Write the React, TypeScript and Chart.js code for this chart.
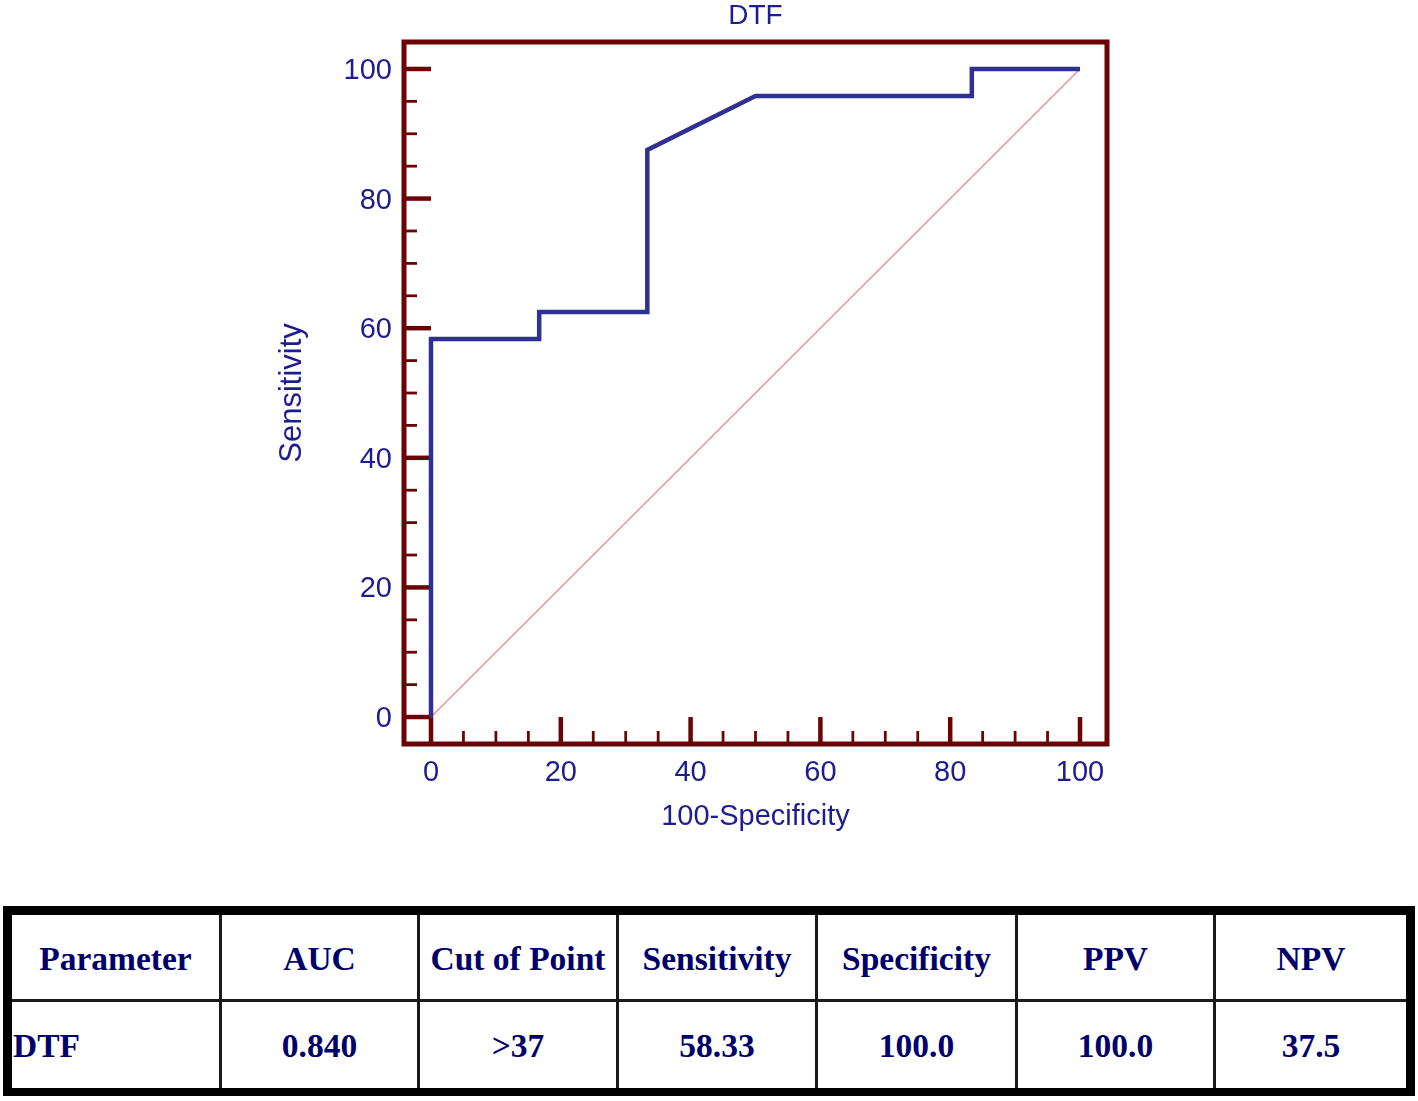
import React, { useEffect, useRef } from "react";
import { Chart, registerables } from "chart.js";

Chart.register(...registerables);

// ROC curve data (100-Specificity, Sensitivity)
const fprValues = [0, 0, 16.67, 16.67, 33.33, 33.33, 50, 83.33, 83.33, 100];
const sensValues = [0, 58.33, 58.33, 62.5, 62.5, 87.5, 95.83, 95.83, 100, 100];
const diagX = [0, 100];
const diagY = [0, 100];
const tickValues = [0, 20, 40, 60, 80, 100];
const minorPerMajor = 3;

const chartTitle = "DTF";
const xTitle = "100-Specificity";
const yTitle = "Sensitivity";

const tableHeaders = ["Parameter", "AUC", "Cut of Point", "Sensitivity", "Specificity", "PPV", "NPV"];
const tableRow = ["DTF", "0.840", ">37", "58.33", "100.0", "100.0", "37.5"];

const TEXT = "#1d1d8f";
const FRAME = "#6b0505";
const FONT = "'Liberation Sans', Arial, sans-serif";

const framePlugin = {
  id: "rocFrame",
  beforeDatasetsDraw(chart: any) {
    const { ctx, chartArea, scales } = chart;
    const xs = scales.x;
    const ys = scales.y;
    const x0 = xs.getPixelForValue(0);
    const y0 = ys.getPixelForValue(0);
    ctx.save();
    ctx.strokeStyle = FRAME;
    ctx.lineWidth = 5;
    ctx.strokeRect(chartArea.left, chartArea.top, chartArea.right - chartArea.left, chartArea.bottom - chartArea.top);
    ctx.lineWidth = 4.5;
    ctx.lineCap = "butt";
    tickValues.forEach((v) => {
      const py = ys.getPixelForValue(v);
      ctx.beginPath();
      ctx.moveTo(chartArea.left, py);
      ctx.lineTo(x0, py);
      ctx.stroke();
      const px = xs.getPixelForValue(v);
      ctx.beginPath();
      ctx.moveTo(px, chartArea.bottom);
      ctx.lineTo(px, y0);
      ctx.stroke();
    });
    ctx.lineWidth = 2.8;
    for (let i = 0; i < tickValues.length - 1; i++) {
      const a = tickValues[i];
      const b = tickValues[i + 1];
      for (let k = 1; k <= minorPerMajor; k++) {
        const v = a + ((b - a) * k) / (minorPerMajor + 1);
        const py = ys.getPixelForValue(v);
        ctx.beginPath();
        ctx.moveTo(chartArea.left, py);
        ctx.lineTo(chartArea.left + 13, py);
        ctx.stroke();
        const px = xs.getPixelForValue(v);
        ctx.beginPath();
        ctx.moveTo(px, chartArea.bottom);
        ctx.lineTo(px, chartArea.bottom - 13);
        ctx.stroke();
      }
    }
    // chart title centred over the plot frame
    ctx.fillStyle = TEXT;
    ctx.font = `28px ${FONT}`;
    ctx.textAlign = "center";
    ctx.textBaseline = "alphabetic";
    ctx.fillText(chartTitle, (chartArea.left + chartArea.right) / 2, 24);
    ctx.restore();
  },
};

function RocChart() {
  const ref = useRef<HTMLCanvasElement | null>(null);
  useEffect(() => {
    if (!ref.current) return;
    const font = { family: FONT, size: 29 };
    const chart = new Chart(ref.current, {
      type: "line",
      data: {
        datasets: [
          {
            data: fprValues.map((x, i) => ({ x, y: sensValues[i] })),
            borderColor: "#2e3192",
            borderWidth: 4.5,
            pointRadius: 0,
            tension: 0,
            fill: false,
            borderJoinStyle: "miter",
            order: 0,
          },
          {
            data: diagX.map((x, i) => ({ x, y: diagY[i] })),
            borderColor: "#e58a8a",
            borderWidth: 1.2,
            pointRadius: 0,
            tension: 0,
            fill: false,
            order: 1,
          },
        ],
      },
      options: {
        animation: false,
        responsive: false,
        layout: { padding: { left: 262, right: 311, top: 42, bottom: 0 } },
        plugins: {
          legend: { display: false },
          tooltip: { enabled: false },
          title: { display: false },
        },
        scales: {
          x: {
            type: "linear",
            min: -4.16,
            max: 104.16,
            grid: { display: false, drawTicks: false },
            border: { display: false },
            afterBuildTicks: (s: any) => {
              s.ticks = tickValues.map((v) => ({ value: v }));
            },
            afterFit: (s: any) => {
              s.height = 116;
            },
            ticks: { color: TEXT, font, padding: 12, maxRotation: 0, autoSkip: false },
            title: {
              display: true,
              text: xTitle,
              color: TEXT,
              font: { family: FONT, size: 29, lineHeight: 1 },
              padding: { top: 0, bottom: 29 },
            },
          },
          y: {
            type: "linear",
            min: -4.16,
            max: 104.16,
            grid: { display: false, drawTicks: false },
            border: { display: false },
            afterBuildTicks: (s: any) => {
              s.ticks = tickValues.map((v) => ({ value: v }));
            },
            afterFit: (s: any) => {
              s.width = 142;
            },
            ticks: { color: TEXT, font, padding: 12, autoSkip: false, labelOffset: 2 },
            title: {
              display: true,
              text: yTitle,
              color: TEXT,
              font: { family: FONT, size: 31, lineHeight: 1 },
              padding: { top: 15, bottom: 0 },
            },
          },
        },
      },
      plugins: [framePlugin],
    } as any);
    return () => chart.destroy();
  }, []);
  return <canvas ref={ref} width={1418} height={860} style={{ display: "block" }} />;
}

const colWidths = [210, 198, 199, 199, 200, 198, 190];

function ResultTable() {
  const cellBase: React.CSSProperties = {
    boxSizing: "border-box",
    display: "flex",
    alignItems: "center",
    justifyContent: "center",
    fontFamily: "'Liberation Serif', 'Times New Roman', serif",
    fontWeight: "bold",
    fontSize: 33.5,
    color: "#00006b",
    whiteSpace: "nowrap",
    overflow: "hidden",
  };
  const lineColor = "#1a1a1a";
  return (
    <div
      style={{
        position: "absolute",
        left: 3,
        top: 906,
        width: 1412,
        height: 190,
        boxSizing: "border-box",
        borderStyle: "solid",
        borderColor: "#000",
        borderWidth: "9px 9px 8px 9px",
        display: "grid",
        gridTemplateColumns: colWidths.map((w) => w + "px").join(" "),
        gridTemplateRows: "87px 86px",
        background: "#fff",
      }}
    >
      {tableHeaders.map((h, i) => (
        <div
          key={"h" + i}
          style={{
            ...cellBase,
            borderRight: i < tableHeaders.length - 1 ? `3px solid ${lineColor}` : "none",
            borderBottom: `3px solid ${lineColor}`,
            paddingTop: 4,
          }}
        >
          {h}
        </div>
      ))}
      {tableRow.map((c, i) => (
        <div
          key={"r" + i}
          style={{
            ...cellBase,
            justifyContent: i === 0 ? "flex-start" : "center",
            paddingLeft: i === 0 ? 1 : 0,
            borderRight: i < tableRow.length - 1 ? `3px solid ${lineColor}` : "none",
            paddingTop: 2,
          }}
        >
          {c}
        </div>
      ))}
    </div>
  );
}

export default function App() {
  return (
    <div style={{ position: "absolute", left: 0, top: 0, width: 1418, height: 1101, background: "#fff" }}>
      <RocChart />
      <ResultTable />
    </div>
  );
}
